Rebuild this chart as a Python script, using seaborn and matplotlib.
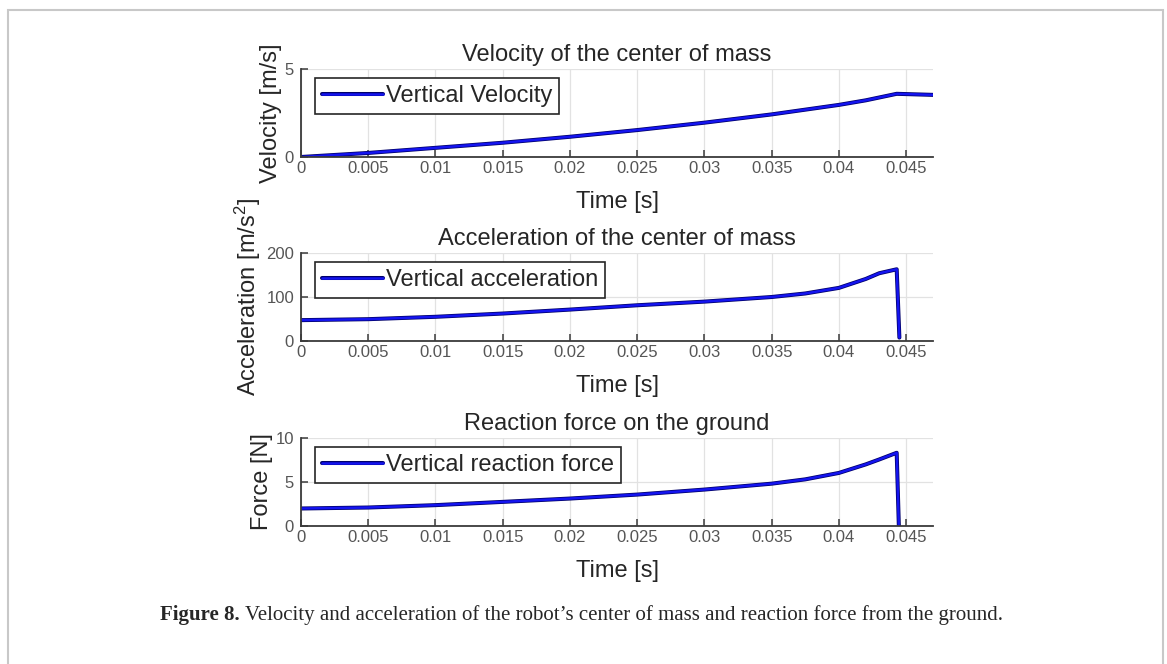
import numpy as np
import pandas as pd
import seaborn as sns
import matplotlib.pyplot as plt
import matplotlib.patheffects as pe
from matplotlib.patches import Rectangle

# 数据
t_vel = [0, 0.005, 0.01, 0.015, 0.02, 0.025, 0.03, 0.035, 0.04, 0.042, 0.0443, 0.047]
vel = [0, 0.23, 0.52, 0.81, 1.15, 1.53, 1.95, 2.42, 2.96, 3.22, 3.59, 3.53]

t_acc = [0, 0.005, 0.01, 0.015, 0.02, 0.025, 0.03, 0.035, 0.0375, 0.04, 0.042, 0.043, 0.0443, 0.0445]
acc = [47.4, 49.6, 55, 62.4, 71.4, 81.2, 89.5, 100, 108, 120.7, 141, 154, 163, 7.8]

t_frc = [0, 0.005, 0.01, 0.015, 0.02, 0.025, 0.03, 0.035, 0.0375, 0.04, 0.042, 0.043, 0.0443, 0.04446]
frc = [1.99, 2.1, 2.37, 2.74, 3.12, 3.57, 4.14, 4.81, 5.3, 6.03, 7.0, 7.56, 8.32, 0]

xticks = [0, 0.005, 0.01, 0.015, 0.02, 0.025, 0.03, 0.035, 0.04, 0.045]
xticklabels = ['0', '0.005', '0.01', '0.015', '0.02', '0.025', '0.03', '0.035', '0.04', '0.045']

titles = ['Velocity of the center of mass', 'Acceleration of the center of mass', 'Reaction force on the ground']
ylabels = ['Velocity [m/s]', 'Acceleration [m/s$^2$]', 'Force [N]']
legends = ['Vertical Velocity', 'Vertical acceleration', 'Vertical reaction force']
yticks_list = [[0, 5], [0, 100, 200], [0, 5, 10]]
ylims = [(0, 5), (0, 200), (0, 10)]

sns.set_theme(style="ticks")
plt.rcParams['font.family'] = ['Liberation Sans', 'DejaVu Sans']
plt.rcParams['mathtext.fontset'] = 'custom'
plt.rcParams['mathtext.rm'] = 'Liberation Sans'
plt.rcParams['mathtext.it'] = 'Liberation Sans'

W, H = 1167, 664
fig = plt.figure(figsize=(W / 100, H / 100), dpi=100)

# 外框
fig.add_artist(Rectangle((8 / W, -0.05), (1163 - 8) / W, 1 - 10 / H + 0.05,
                         transform=fig.transFigure, fill=False,
                         edgecolor='#c8c8c8', linewidth=1.5))

tops = [69, 253, 438]
bottoms = [157, 341, 526]
datasets = [(t_vel, vel), (t_acc, acc), (t_frc, frc)]

line_fx = [pe.Stroke(linewidth=2.9, foreground='#00006a'), pe.Normal()]

for i in range(3):
    ax = fig.add_axes([301 / W, 1 - bottoms[i] / H, (933 - 301) / W, (bottoms[i] - tops[i]) / H])
    t, y = datasets[i]
    df = pd.DataFrame({'t': t, 'y': y})
    sns.lineplot(data=df, x='t', y='y', ax=ax, color='#1414f0', linewidth=1.8,
                 label=legends[i], sort=False)
    for ln in ax.get_lines():
        ln.set_path_effects(line_fx)
    ax.set_xlim(0, 0.047)
    ax.set_ylim(*ylims[i])
    ax.set_xticks(xticks)
    ax.set_xticklabels(xticklabels)
    ax.set_yticks(yticks_list[i])
    ax.grid(True, color='#e2e2e2', linewidth=0.9)
    ax.set_axisbelow(True)
    for s in ['top', 'right']:
        ax.spines[s].set_visible(False)
    for s in ['left', 'bottom']:
        ax.spines[s].set_color('#3a3a3a')
        ax.spines[s].set_linewidth(1.3)
    ax.tick_params(axis='x', direction='in', length=5, width=1.1, color='#3a3a3a',
                   labelsize=12, labelcolor='#555555', pad=3)
    ax.tick_params(axis='y', direction='in', length=5, width=1.1, color='#3a3a3a',
                   labelsize=12, labelcolor='#555555', pad=5)
    ax.set_title(titles[i], fontsize=17, color='#262626', pad=6)
    ax.set_xlabel('Time [s]', fontsize=17, color='#262626', labelpad=11)
    ax.set_ylabel(ylabels[i], fontsize=17, color='#262626', labelpad=2)
    leg = ax.legend(loc='upper left', bbox_to_anchor=(14 / 632, 1 - 9 / 88),
                    borderaxespad=0, fontsize=17, frameon=True, fancybox=False,
                    framealpha=1, edgecolor='#262626', handlelength=2.6,
                    handletextpad=0.1, borderpad=0.3)
    leg.get_frame().set_linewidth(1.2)
    for h in leg.get_lines():
        h.set_path_effects(line_fx)

serif = ['Liberation Serif', 'DejaVu Serif']
cap1 = fig.text(160 / W, 1 - 615 / H, 'Figure 8.', fontsize=15, fontweight='bold',
                family=serif, va='center', ha='left')
fig.canvas.draw()
bb = cap1.get_window_extent()
fig.text((bb.x1 + 5) / W, 1 - 615 / H,
         'Velocity and acceleration of the robot\u2019s center of mass and reaction force from the ground.',
         fontsize=15, family=serif, va='center', ha='left')

fig.savefig('out.png', dpi=100)
